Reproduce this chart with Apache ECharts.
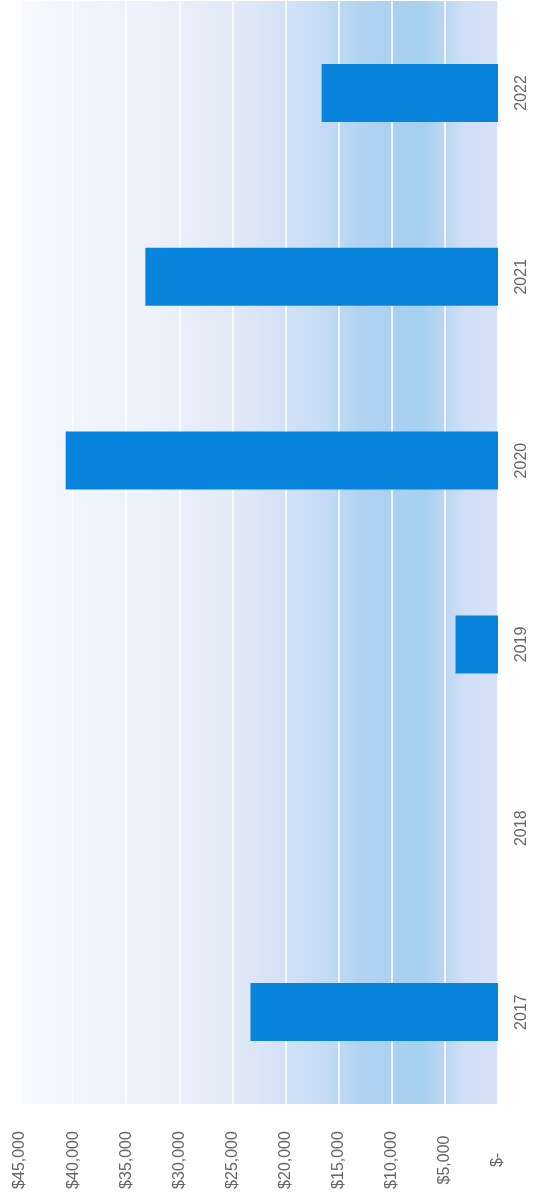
<!DOCTYPE html>
<html>
<head>
<meta charset="utf-8">
<script src="https://cdn.jsdelivr.net/npm/echarts@6/dist/echarts.min.js"></script>
<style>html,body{margin:0;padding:0;background:#fff}#c{width:538px;height:1197px}</style>
</head>
<body>
<div id="c"></div>
<script>
var categories = ['2017', '2018', '2019', '2020', '2021', '2022'];
var values = [23300, 0, 4000, 40700, 33200, 16600];
var tickMin = 0, tickMax = 45000, tickStep = 5000;

var chart = echarts.init(document.getElementById('c'));
var bg = new echarts.graphic.LinearGradient(0, 0, 1, 0, [
  {offset: 0, color: '#fafcfe'},
  {offset: 0.06, color: '#f3f6fc'},
  {offset: 0.3, color: '#ebf1fa'},
  {offset: 0.44, color: '#e2eaf8'},
  {offset: 0.55, color: '#d4e2f6'},
  {offset: 0.62, color: '#c8ddf5'},
  {offset: 0.72, color: '#b0d3f1'},
  {offset: 0.84, color: '#a7cff0'},
  {offset: 0.89, color: '#bcd7f3'},
  {offset: 0.93, color: '#cfdff6'},
  {offset: 1, color: '#d8e2f6'}
]);
chart.setOption({
  animation: false,
  grid: {left: 20, right: 40, top: 1, bottom: 93, show: true, backgroundColor: bg, borderWidth: 0},
  xAxis: {
    type: 'value', min: tickMin, max: tickMax, interval: tickStep, inverse: true,
    axisLine: {show: false}, axisTick: {show: false},
    splitLine: {show: true, lineStyle: {color: '#ffffff', width: 1.5}},
    axisLabel: {
      rotate: 90, align: 'center', verticalAlign: 'middle', margin: 56,
      color: '#666666', fontSize: 16, fontFamily: 'Liberation Sans, Arial, sans-serif',
      formatter: function (v) { return v === 0 ? '$-' : '$' + v.toLocaleString('en-US'); }
    }
  },
  yAxis: {
    type: 'category', data: categories, position: 'right',
    axisLine: {show: false}, axisTick: {show: false}, splitLine: {show: false},
    axisLabel: {
      rotate: 90, align: 'center', verticalAlign: 'middle', margin: 24,
      color: '#666666', fontSize: 16, fontFamily: 'Liberation Sans, Arial, sans-serif'
    }
  },
  series: [{
    type: 'bar', data: values, barWidth: 58,
    itemStyle: {color: '#0984dc'}
  }]
});
</script>
</body>
</html>
